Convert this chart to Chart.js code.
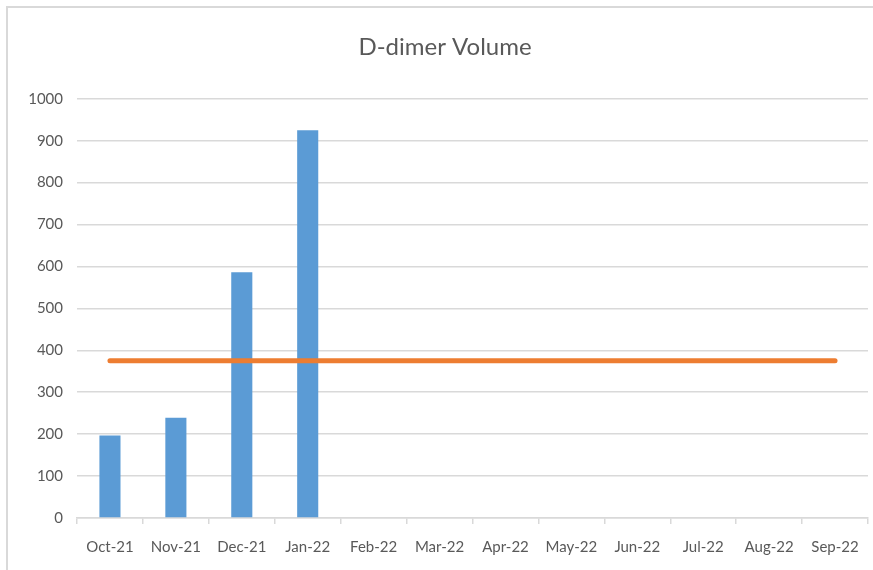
<!DOCTYPE html>
<html>
<head>
<meta charset="utf-8">
<script src="https://cdn.jsdelivr.net/npm/chart.js@4/dist/chart.umd.min.js"></script>
<style>
html,body{margin:0;padding:0;background:#fff;}
#wrap{width:873px;height:570px;position:relative;}
</style>
</head>
<body>
<div id="wrap"><canvas id="c" width="873" height="570"></canvas></div>
<script>
const months = ["Oct-21","Nov-21","Dec-21","Jan-22","Feb-22","Mar-22","Apr-22","May-22","Jun-22","Jul-22","Aug-22","Sep-22"];
const volume = [197, 239, 586, 925, null, null, null, null, null, null, null, null];
const average = [375, 375, 375, 375, 375, 375, 375, 375, 375, 375, 375, 375];
const yTicks = [0,100,200,300,400,500,600,700,800,900,1000];

const frame = {
  id: 'frame',
  beforeDraw(chart) {
    const ctx = chart.ctx;
    ctx.save();
    ctx.strokeStyle = '#d9d9d9';
    ctx.lineWidth = 2;
    ctx.beginPath();
    ctx.moveTo(7, 570);
    ctx.lineTo(7, 7);
    ctx.lineTo(873, 7);
    ctx.stroke();
    ctx.restore();
  }
};

new Chart(document.getElementById('c'), {
  data: {
    labels: months,
    datasets: [
      {
        type: 'line',
        label: 'Average',
        data: average,
        borderColor: '#ed7d31',
        backgroundColor: '#ed7d31',
        borderWidth: 5,
        borderCapStyle: 'round',
        pointRadius: 0,
        order: 0
      },
      {
        type: 'bar',
        label: 'D-dimer Volume',
        data: volume,
        backgroundColor: '#5b9bd5',
        categoryPercentage: 1.0,
        barPercentage: 0.32,
        order: 1
      }
    ]
  },
  options: {
    responsive: false,
    animation: false,
    layout: { padding: { left: 22, right: 5, top: 0, bottom: 0 } },
    plugins: {
      legend: { display: false },
      tooltip: { enabled: false },
      title: {
        display: true,
        text: 'D-dimer Volume',
        color: '#595959',
        font: { family: 'Lato', size: 24, weight: 'normal' },
        padding: { top: 33, bottom: 37 }
      }
    },
    scales: {
      x: {
        offset: true,
        grid: {
          drawOnChartArea: false,
          drawTicks: true,
          tickLength: 6,
          color: '#d9d9d9',
          lineWidth: 1.5,
          offset: true
        },
        border: { display: true, color: '#d9d9d9', width: 1.5 },
        ticks: {
          color: '#595959',
          font: { family: 'Lato', size: 15 },
          padding: 14,
          maxRotation: 0,
          autoSkip: false
        },
        afterFit(scale) { scale.height = 52; }
      },
      y: {
        min: 0,
        max: 1000,
        afterBuildTicks(scale) { scale.ticks = yTicks.map(v => ({ value: v })); },
        grid: {
          color: '#d9d9d9',
          lineWidth: 1.5,
          drawTicks: false
        },
        border: { display: false },
        ticks: {
          color: '#595959',
          font: { family: 'Lato', size: 15 },
          padding: 14,
          callback: (v) => String(v)
        },
        afterFit(scale) { scale.width = 55; }
      }
    }
  },
  plugins: [frame]
});
</script>
</body>
</html>
